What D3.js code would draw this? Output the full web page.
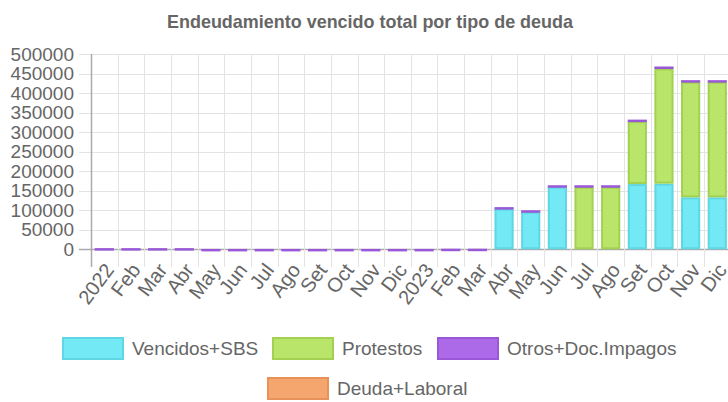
<!DOCTYPE html>
<html lang="es">
<head>
    <meta charset="utf-8">
    <title>Endeudamiento</title>
    <script src="https://d3js.org/d3.v7.min.js" charset="utf-8"></script>
    <style>
        body { margin: 0; background: #fff; }
        text { font-family: "Liberation Sans", Arial, sans-serif; fill: #666; }
    </style>
</head>
<body>
<script>

var months = ["2022","Feb","Mar","Abr","May","Jun","Jul","Ago","Set","Oct","Nov","Dic",
              "2023","Feb","Mar","Abr","May","Jun","Jul","Ago","Set","Oct","Nov","Dic"]

var vencidosSBS = [0,0,0,0,0,0,0,0,0,0,0,0, 0,0,0,104000,96000,160000,0,0,167000,168000,133000,133000]
var protestos   = [0,0,0,0,0,0,0,0,0,0,0,0, 0,0,0,0,0,0,160000,160000,161000,295000,296000,296000]
var otrosDoc    = [3000,3000,3000,3000,1000,1000,1000,1000,1000,1000,1000,1000, 1000,1500,1500,4000,4000,4000,4000,4000,4000,5000,4000,4000]
var deudaLaboral = [0,0,0,0,0,0,0,0,0,0,0,0, 0,0,0,0,0,0,0,0,0,0,0,0]

var seriesNames = ["Vencidos+SBS","Protestos","Otros+Doc.Impagos","Deuda+Laboral"]
var fills   = ["#72e9f4","#b9e66a","#ac6ae8","#f5a56e"]
var borders = ["#5fd6e3","#a2d152","#9a58d8","#e8925a"]
var yTicks = [0,50000,100000,150000,200000,250000,300000,350000,400000,450000,500000]

var w = 728, h = 402
var svg = d3.select("body").append("svg").attr("width", w).attr("height", h)

var x = d3.scaleBand().domain(d3.range(months.length)).range([91, 730.6]).paddingInner(0).paddingOuter(0)
var y = d3.scaleLinear().domain([0, 500000]).range([249.3, 54])

// gridlines
svg.append("g").selectAll("line").data(yTicks).join("line")
    .attr("x1", 79).attr("x2", 731)
    .attr("y1", function(d){return Math.round(y(d)) + 0.5}).attr("y2", function(d){return Math.round(y(d)) + 0.5})
    .attr("stroke", function(d){return d == 0 ? "#aaa" : "#e3e3e3"}).attr("stroke-width", function(d){return d == 0 ? 1.5 : 1})

svg.append("g").selectAll("line").data(d3.range(months.length + 1)).join("line")
    .attr("x1", function(i){return Math.round(91 + i * x.step()) + 0.5})
    .attr("x2", function(i){return Math.round(91 + i * x.step()) + 0.5})
    .attr("y1", 54).attr("y2", 267)
    .attr("stroke", function(i){return i == 0 ? "#aaa" : "#e3e3e3"}).attr("stroke-width", function(i){return i == 0 ? 1.5 : 1})

// stacked bars
var stackData = months.map(function(m, i) {
    return {i: i, a: vencidosSBS[i], b: protestos[i], c: otrosDoc[i], d: deudaLaboral[i]}
})
var stack = d3.stack().keys(["a","b","c","d"])(stackData)
var barW = x.bandwidth() * 0.72

svg.append("g").selectAll("g").data(stack).join("g")
    .attr("fill", function(d, k){return fills[k]})
    .attr("stroke", function(d, k){return borders[k]})
    .selectAll("rect").data(function(d){return d.filter(function(p){return p[1] - p[0] > 0})}).join("rect")
    .attr("x", function(p){return x(p.data.i) + (x.bandwidth() - barW) / 2 + 1})
    .attr("width", barW - 2)
    .attr("y", function(p){return y(p[1]) + 1})
    .attr("height", function(p){return Math.max(0.5, y(p[0]) - y(p[1]) - 2)})
    .attr("stroke-width", 2)

// y tick labels
svg.append("g").selectAll("text").data(yTicks).join("text")
    .attr("x", 74).attr("y", function(d){return y(d)})
    .attr("dy", "0.35em").attr("text-anchor", "end")
    .style("font-size", "19px")
    .text(function(d){return d})

// x tick labels
svg.append("g").selectAll("text").data(months).join("text")
    .attr("transform", function(d, i){return "translate(" + (x(i) + x.bandwidth() / 2 + 1) + ",263) rotate(-53)"})
    .attr("text-anchor", "end").attr("dy", "0.6em")
    .style("font-size", "20px")
    .text(function(d){return d})

// title
svg.append("text").attr("x", 370).attr("y", 28).attr("text-anchor", "middle")
    .attr("textLength", 406).attr("lengthAdjust", "spacingAndGlyphs")
    .style("font-size", "19px").style("font-weight", "bold")
    .text("Endeudamiento vencido total por tipo de deuda")

// legend
var legendPos = [[62, 337], [272, 337], [437, 337], [267, 377]]
var lg = svg.append("g").selectAll("g").data(seriesNames).join("g")
    .attr("transform", function(d, k){return "translate(" + legendPos[k][0] + "," + legendPos[k][1] + ")"})
lg.append("rect").attr("x", 1).attr("y", 1).attr("width", 60).attr("height", 21)
    .attr("fill", function(d, k){return fills[k]}).attr("stroke", function(d, k){return borders[k]}).attr("stroke-width", 2)
lg.append("text").attr("x", 70).attr("y", 11.5).attr("dy", "0.35em")
    .style("font-size", "19px")
    .text(function(d){return d})

</script>
</body>
</html>
